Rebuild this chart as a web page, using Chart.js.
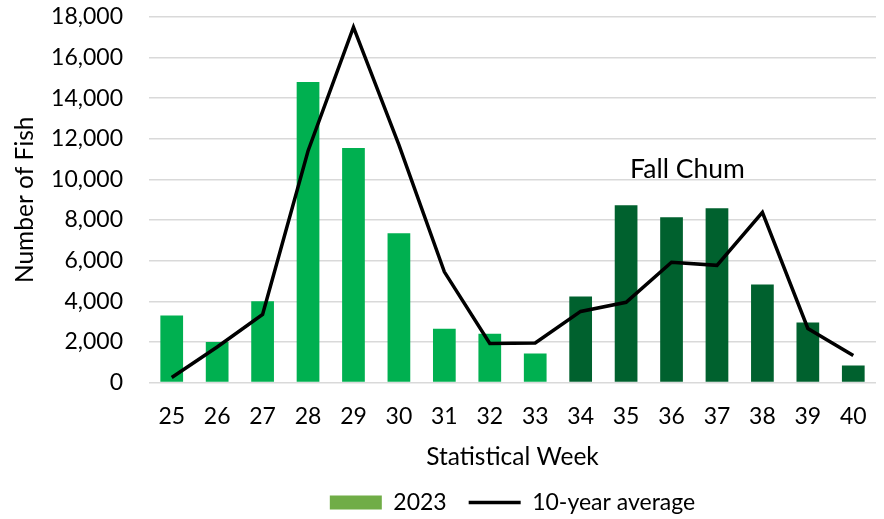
<!DOCTYPE html>
<html>
<head>
<meta charset="utf-8">
<script src="https://cdn.jsdelivr.net/npm/chart.js@4.4.1/dist/chart.umd.min.js"></script>
<style>
  html, body { margin: 0; padding: 0; background: #fff; }
  #wrap { width: 884px; height: 519px; }
</style>
</head>
<body>
<div id="wrap"><canvas id="fishChart"></canvas></div>
<script>
// data
const weeks = ['25', '26', '27', '28', '29', '30', '31', '32', '33', '34', '35', '36', '37', '38', '39', '40'];
const counts2023 = [3300, 2000, 4000, 14800, 11550, 7350, 2650, 2400, 1430, 4240, 8730, 8140, 8580, 4830, 2960, 840];
const tenYearAvg = [250, 1750, 3350, 11400, 17500, 11700, 5450, 1920, 1950, 3500, 3950, 5920, 5770, 8380, 2660, 1330];
const fallChumFrom = '34';
const yMax = 18000;
const yStep = 2000;
const noteText = 'Fall Chum';
const noteWeek = 11.35;   // category index
const noteValue = 10500;

const lightGreen = '#00b050';
const darkGreen = '#00612e';
const clear = 'rgba(0,0,0,0)';

Chart.defaults.font.family = 'Lato, sans-serif';
Chart.defaults.font.size = 23;
Chart.defaults.color = '#000';

const fallChumNote = {
  id: 'fallChumNote',
  afterDatasetsDraw(chart) {
    const { ctx, scales: { x, y } } = chart;
    ctx.save();
    ctx.font = '26.5px Lato, sans-serif';
    ctx.fillStyle = '#000';
    ctx.textAlign = 'center';
    ctx.textBaseline = 'middle';
    ctx.fillText(noteText, x.getPixelForValue(noteWeek), y.getPixelForValue(noteValue));
    ctx.restore();
  }
};

const ctx = document.getElementById('fishChart').getContext('2d');
new Chart(ctx, {
  type: 'bar',
  data: {
    labels: weeks,
    datasets: [
      {
        label: '2023',
        data: counts2023,
        backgroundColor: (c) => Number(weeks[c.dataIndex]) >= Number(fallChumFrom) ? darkGreen : lightGreen,
        borderWidth: 0,
        barPercentage: 0.5,
        categoryPercentage: 1.0,
        pointStyle: 'rect',
        order: 1
      },
      {
        type: 'line',
        label: '10-year average',
        data: tenYearAvg,
        borderColor: '#000',
        backgroundColor: '#000',
        borderWidth: 3.5,
        pointRadius: 0,
        pointStyle: 'line',
        tension: 0,
        order: 0
      }
    ]
  },
  options: {
    responsive: true,
    maintainAspectRatio: false,
    animation: false,
    layout: { padding: { top: 17, right: 8, left: 0, bottom: -5 } },
    scales: {
      x: {
        grid: { color: clear, tickColor: clear, drawTicks: true, tickLength: 20 },
        border: { display: false },
        ticks: { padding: 0 },
        title: { display: true, text: 'Statistical Week', font: { size: 24.5 }, padding: { top: 0, bottom: -3 } },
        afterFit: (s) => { s.height = 86.5; }
      },
      y: {
        min: 0,
        max: yMax,
        grid: { color: '#d9d9d9', lineWidth: 1.5, tickColor: clear, drawTicks: true, tickLength: 26 },
        border: { display: false },
        ticks: { stepSize: yStep, padding: 0, callback: (v) => v.toLocaleString('en-US') },
        title: { display: true, text: 'Number of Fish', font: { size: 24.5 }, padding: { top: 10, bottom: 0 } },
        afterFit: (s) => { s.width = 149; }
      }
    },
    plugins: {
      legend: {
        position: 'bottom',
        fullSize: false,
        labels: {
          usePointStyle: true,
          pointStyleWidth: 52,
          boxHeight: 14,
          padding: 22,
          font: { size: 23 },
          sort: (a, b) => a.datasetIndex - b.datasetIndex,
          generateLabels: (chart) => {
            const items = Chart.defaults.plugins.legend.labels.generateLabels(chart);
            items.forEach((it) => {
              if (it.datasetIndex === 0) { it.fillStyle = '#70ad47'; it.strokeStyle = '#70ad47'; it.lineWidth = 0; }
            });
            return items;
          }
        }
      },
      tooltip: { enabled: false }
    }
  },
  plugins: [fallChumNote]
});
</script>
</body>
</html>
